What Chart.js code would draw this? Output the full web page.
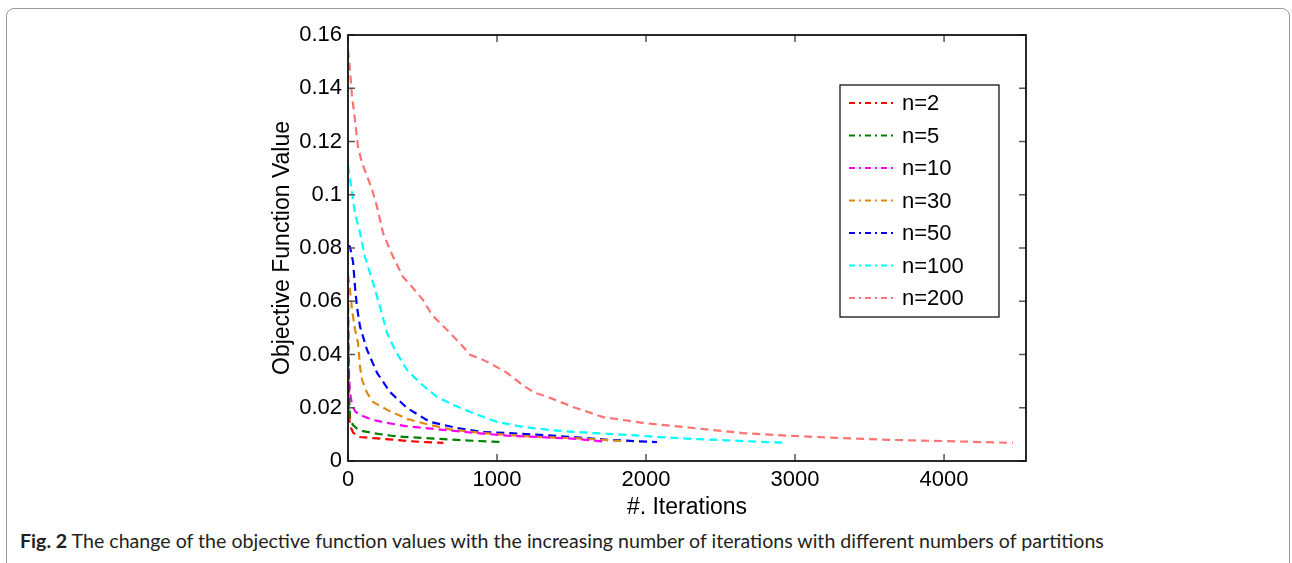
<!DOCTYPE html>
<html lang="en">
<head>
<meta charset="UTF-8">
<title>Objective function value vs iterations</title>
<style>
  body { margin: 0; background: #fff; }
  .frame {
    position: absolute; left: 6px; top: 8px;
    width: 1282px; height: 600px;
    border: 1px solid #9a9a9a; border-radius: 8px 8px 0 0;
  }
  #wrap { position: absolute; left: 0; top: 0; width: 1292px; height: 525px; }
  .caption {
    position: absolute; left: 20px; top: 529px;
    font-family: Lato, sans-serif; font-size: 19.6px; color: #231f20;
    white-space: nowrap;
  }
  .caption b { font-weight: bold; }
</style>
</head>
<body>
<div class="frame"></div>
<div id="wrap"><canvas id="chart" width="1292" height="525"></canvas></div>
<div class="caption"><b>Fig. 2</b> The change of the objective function values with the increasing number of iterations with different numbers of partitions</div>

<script src="https://cdn.jsdelivr.net/npm/chart.js"></script>
<script>
// tick labels
const xTicks = [0, 1000, 2000, 3000, 4000];
const yTicks = [0, 0.02, 0.04, 0.06, 0.08, 0.1, 0.12, 0.14, 0.16];

// series: [iteration, objective value]
const n2 = [[0, 0.032], [4, 0.02], [10, 0.015], [20, 0.0125], [34, 0.0107], [60, 0.0096],
  [81, 0.009], [168, 0.0086], [300, 0.008], [396, 0.0075], [520, 0.0071], [640, 0.0068]];
const n5 = [[0, 0.058], [4, 0.035], [10, 0.02], [15, 0.0154], [34, 0.0135], [60, 0.0122],
  [100, 0.0112], [168, 0.0105], [300, 0.0094], [396, 0.009], [617, 0.0083], [839, 0.0076],
  [1040, 0.0071]];
const n10 = [[0, 0.064], [3, 0.045], [7, 0.032], [13, 0.026], [27, 0.021], [50, 0.0185],
  [81, 0.0173], [168, 0.0154], [262, 0.0143], [396, 0.013], [617, 0.0118], [839, 0.0106],
  [1067, 0.0095], [1289, 0.009], [1537, 0.0083], [1740, 0.0072]];
const n30 = [[0, 0.07], [13, 0.0643], [27, 0.0568], [47, 0.0493], [67, 0.0444], [81, 0.0353],
  [94, 0.0305], [128, 0.0256], [168, 0.0222], [262, 0.0192], [396, 0.0158], [530, 0.0138],
  [685, 0.0119], [886, 0.0106], [1067, 0.0098], [1289, 0.009], [1510, 0.0086], [1870, 0.0074]];
const n50 = [[0, 0.081], [13, 0.0805], [34, 0.0748], [47, 0.0654], [60, 0.0579], [81, 0.0504],
  [128, 0.0417], [195, 0.0331], [282, 0.0259], [396, 0.0199], [550, 0.0147], [732, 0.0124],
  [906, 0.0109], [1067, 0.0105], [1289, 0.0098], [1510, 0.009], [1758, 0.0079], [2074, 0.0071]];
const n100 = [[0, 0.111], [27, 0.1008], [47, 0.093], [81, 0.0857], [114, 0.0767], [168, 0.0669],
  [215, 0.0579], [262, 0.0481], [315, 0.0417], [396, 0.0342], [483, 0.0293], [597, 0.0241],
  [705, 0.0211], [839, 0.018], [1000, 0.0147], [1174, 0.0128], [1376, 0.0115], [1644, 0.0105],
  [1872, 0.0098], [2094, 0.009], [2315, 0.0083], [2651, 0.0075], [2946, 0.0068]];
const n200 = [[0, 0.1545], [13, 0.147], [27, 0.137], [47, 0.128], [67, 0.118], [94, 0.112],
  [128, 0.107], [161, 0.102], [195, 0.0955], [215, 0.0906], [235, 0.0857], [302, 0.0767],
  [369, 0.0692], [430, 0.0654], [503, 0.0605], [564, 0.0549], [617, 0.0519], [685, 0.0481],
  [772, 0.0429], [819, 0.0399], [906, 0.038], [973, 0.0361], [1067, 0.0331], [1154, 0.0293],
  [1242, 0.0259], [1356, 0.0237], [1510, 0.0203], [1711, 0.0165], [1980, 0.0143], [2315, 0.0124],
  [2651, 0.0105], [2987, 0.0094], [3322, 0.0086], [3658, 0.0079], [3993, 0.0075], [4463, 0.0068]];

const seriesNames = ['n=2', 'n=5', 'n=10', 'n=30', 'n=50', 'n=100', 'n=200'];
const seriesData = [n2, n5, n10, n30, n50, n100, n200];
const seriesColors = ['#ff0000', '#008000', '#ff00ff', '#df8a14', '#0000ff', '#00ffff', '#ff7373'];

const FONT = 'Liberation Sans, Arial, sans-serif';

// MATLAB-style box with inward ticks plus the legend box
const boxPlugin = {
  id: 'matlabBox',
  afterDraw(chart) {
    const ctx = chart.ctx;
    const a = chart.chartArea;
    const xs = chart.scales.x, ys = chart.scales.y;
    ctx.save();
    // ticks
    ctx.strokeStyle = '#555';
    ctx.lineWidth = 1.5;
    ctx.beginPath();
    xTicks.forEach(v => {
      const px = xs.getPixelForValue(v);
      ctx.moveTo(px, a.bottom); ctx.lineTo(px, a.bottom - 7);
      ctx.moveTo(px, a.top); ctx.lineTo(px, a.top + 7);
    });
    yTicks.forEach(v => {
      const py = ys.getPixelForValue(v);
      ctx.moveTo(a.left, py); ctx.lineTo(a.left + 7, py);
      ctx.moveTo(a.right, py); ctx.lineTo(a.right - 7, py);
    });
    ctx.stroke();
    // frame
    ctx.strokeStyle = '#111';
    ctx.lineWidth = 1.8;
    ctx.strokeRect(a.left, a.top, a.right - a.left, a.bottom - a.top);

    // legend
    const lx = 840, ly = 85, lw = 159, lh = 232, row = 32.5;
    ctx.fillStyle = '#fff';
    ctx.fillRect(lx, ly, lw, lh);
    ctx.strokeStyle = '#000';
    ctx.lineWidth = 1.2;
    ctx.strokeRect(lx, ly, lw, lh);
    ctx.font = '22px ' + FONT;
    ctx.textBaseline = 'middle';
    chart.data.datasets.forEach((ds, i) => {
      const y = ly + 18 + i * row;
      ctx.strokeStyle = ds.borderColor;
      ctx.lineWidth = 2;
      ctx.setLineDash([6, 4, 2, 4]);
      ctx.beginPath();
      ctx.moveTo(lx + 9, y); ctx.lineTo(lx + 57, y);
      ctx.stroke();
      ctx.setLineDash([]);
      ctx.fillStyle = '#000';
      ctx.fillText(ds.label, lx + 62, y + 1);
    });
    ctx.restore();
  }
};

new Chart(document.getElementById('chart'), {
  type: 'line',
  data: {
    datasets: seriesNames.map((name, i) => ({
      label: name,
      data: seriesData[i].map(p => ({ x: p[0], y: p[1] })),
      borderColor: seriesColors[i],
      borderWidth: 2.2,
      borderDash: [8, 5],
      pointRadius: 0,
      tension: 0,
      fill: false
    }))
  },
  options: {
    responsive: false,
    animation: false,
    devicePixelRatio: 1,
    layout: { padding: { left: 269, right: 266, top: 35, bottom: 0 } },
    plugins: { legend: { display: false }, tooltip: { enabled: false } },
    scales: {
      x: {
        type: 'linear',
        min: 0,
        max: 4550,
        afterBuildTicks: s => { s.ticks = xTicks.map(v => ({ value: v })); },
        afterFit: s => { s.height = 64; },
        grid: { display: false, drawTicks: false },
        border: { display: false },
        ticks: {
          padding: 6, color: '#000', font: { family: FONT, size: 22 },
          callback: v => String(v)
        },
        title: {
          display: true, text: '#. Iterations', color: '#000',
          font: { family: FONT, size: 23 }, padding: { top: 0, bottom: 4 }
        }
      },
      y: {
        min: 0,
        max: 0.16,
        afterBuildTicks: s => { s.ticks = yTicks.map(v => ({ value: v })); },
        afterFit: s => { s.width = 79; },
        grid: { display: false, drawTicks: false },
        border: { display: false },
        ticks: {
          padding: 6, color: '#000', font: { family: FONT, size: 22 },
          callback: v => String(+v.toFixed(2))
        },
        title: {
          display: true, text: 'Objective Function Value', color: '#000',
          font: { family: FONT, size: 23 }, padding: { top: 0, bottom: 0 }
        }
      }
    }
  },
  plugins: [boxPlugin]
});
</script>
</body>
</html>
